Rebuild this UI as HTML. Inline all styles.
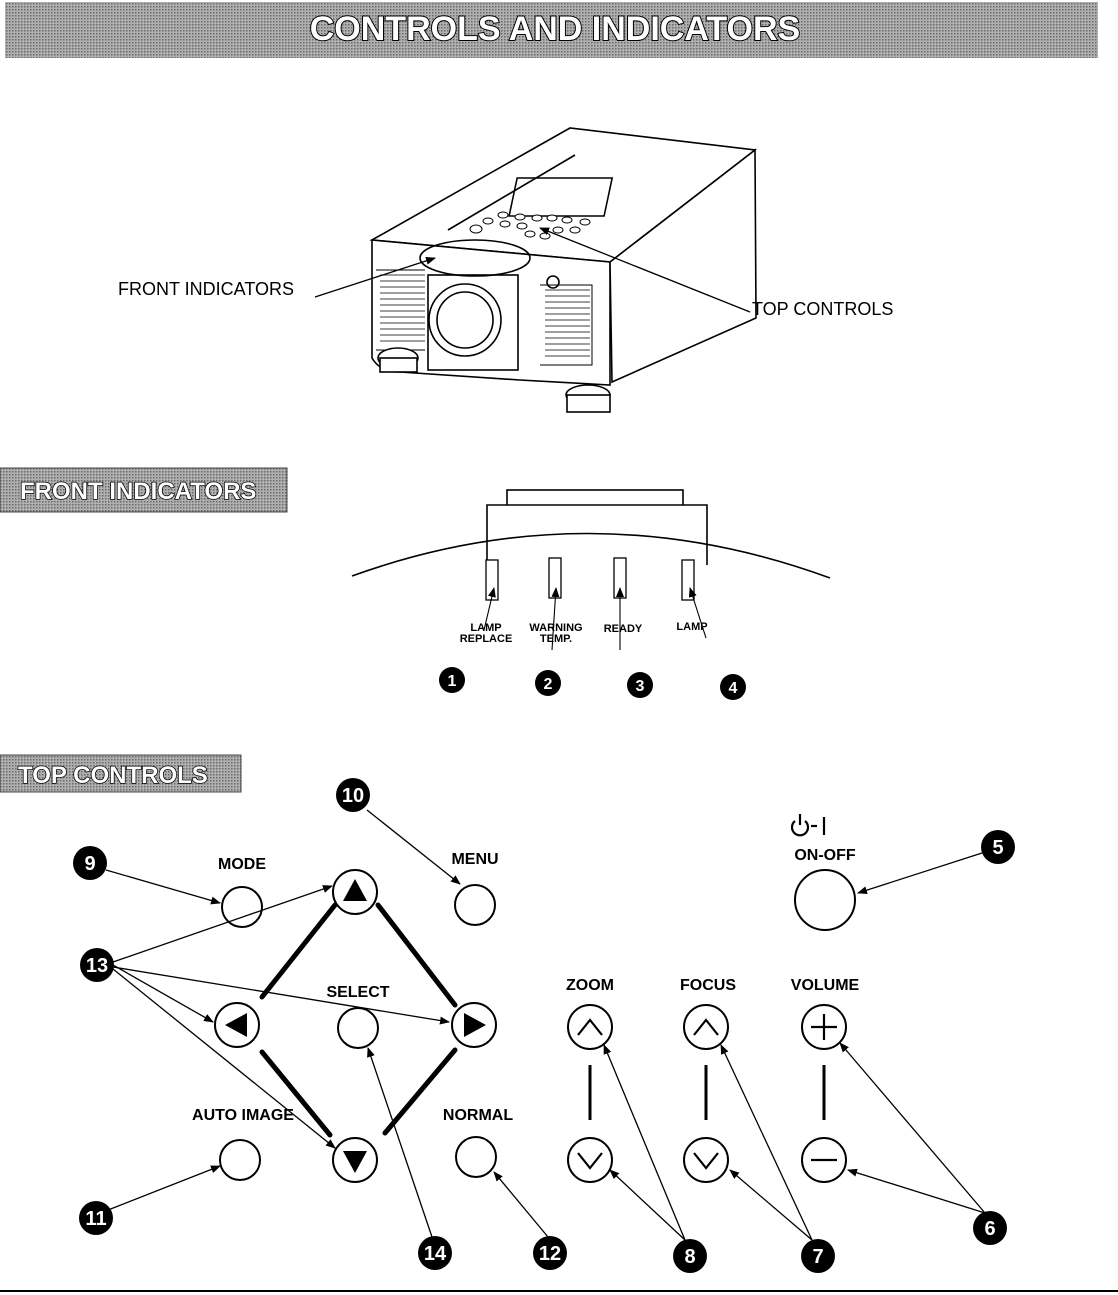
<!DOCTYPE html>
<html><head><style>
body{margin:0;background:#fff;}
svg{display:block;}
text{font-family:"Liberation Sans",Arial,sans-serif;}
</style></head><body>
<svg width="1118" height="1295" viewBox="0 0 1118 1295" xmlns="http://www.w3.org/2000/svg">
<defs>
<pattern id="ht" width="3" height="3" patternUnits="userSpaceOnUse"><rect width="3" height="3" fill="#b0b0b0"/><rect width="1.5" height="1.5" fill="#6a6a6a"/></pattern>
<marker id="ah" markerWidth="10" markerHeight="8" refX="9" refY="4" orient="auto" markerUnits="userSpaceOnUse"><path d="M0,0 L10,4 L0,8 z" fill="#000"/></marker>
</defs>
<rect x="5" y="2" width="1093" height="56" fill="url(#ht)"/>
<text x="555" y="40" font-size="34" font-weight="bold" text-anchor="middle" fill="#fff" stroke="#000" stroke-width="2" paint-order="stroke">CONTROLS AND  INDICATORS</text>

<g fill="none" stroke="#000" stroke-width="1.6">
<path d="M372,240 L570,128 L755,150 L610,262 Z" fill="#fff"/>
<path d="M372,240 L372,358 Q380,372 400,372 L520,380 L610,385 L610,262 Z" fill="#fff"/>
<path d="M610,262 L755,150 L756,318 L612,382 Z" fill="#fff"/>
<rect x="510" y="178" width="95" height="38" transform="skewX(-12) translate(45,0)"/>
<path d="M448,230 L575,155"/>
<rect x="428" y="275" width="90" height="95" fill="#fff"/>
<circle cx="465" cy="320" r="36" fill="#fff"/><circle cx="465" cy="320" r="28"/>
<circle cx="553" cy="282" r="6"/>
<ellipse cx="475" cy="258" rx="55" ry="18"/>
<path d="M540,285 L592,285 L592,365 L540,365" stroke-width="1"/>
<path d="M376,270 L425,270 M376,350 L425,350" stroke-width="1"/>
<ellipse cx="398" cy="358" rx="20" ry="10" fill="#fff"/><rect x="380" y="358" width="37" height="14" fill="#fff"/>
<ellipse cx="588" cy="395" rx="22" ry="10" fill="#fff"/><rect x="567" y="395" width="43" height="17" fill="#fff"/>
</g>
<g stroke="#000" stroke-width="0.8">
<path d="M380,275 H425 M380,281 H425 M380,287 H425 M380,293 H425 M380,299 H425 M380,305 H425 M380,311 H425 M380,317 H425 M380,323 H425 M380,329 H425 M380,335 H425 M380,341 H425"/>
<path d="M545,290 H590 M545,296 H590 M545,302 H590 M545,308 H590 M545,314 H590 M545,320 H590 M545,326 H590 M545,332 H590 M545,338 H590 M545,344 H590 M545,350 H590 M545,356 H590"/>
</g>
<g fill="#fff" stroke="#000" stroke-width="1">
<ellipse cx="476" cy="229" rx="6" ry="4"/><ellipse cx="488" cy="221" rx="5" ry="3"/><ellipse cx="503" cy="215" rx="5" ry="3"/><ellipse cx="520" cy="217" rx="5" ry="3"/><ellipse cx="537" cy="218" rx="5" ry="3"/><ellipse cx="552" cy="218" rx="5" ry="3"/><ellipse cx="567" cy="220" rx="5" ry="3"/><ellipse cx="585" cy="222" rx="5" ry="3"/><ellipse cx="505" cy="224" rx="5" ry="3"/><ellipse cx="522" cy="226" rx="5" ry="3"/><ellipse cx="558" cy="230" rx="5" ry="3"/><ellipse cx="575" cy="230" rx="5" ry="3"/><ellipse cx="530" cy="234" rx="5" ry="3"/><ellipse cx="545" cy="236" rx="5" ry="3"/>
</g>
<text x="118" y="295" font-size="18">FRONT INDICATORS</text>
<line x1="315" y1="297" x2="435" y2="258" stroke="#000" stroke-width="1.3" marker-end="url(#ah)"/>
<text x="752" y="315" font-size="18">TOP CONTROLS</text>
<line x1="750" y1="312" x2="540" y2="228" stroke="#000" stroke-width="1.3" marker-end="url(#ah)"/>

<rect x="0" y="468" width="287" height="44" fill="url(#ht)" stroke="#444"/>
<text x="20" y="499" font-size="24" font-weight="bold" fill="#fff" stroke="#000" stroke-width="1.5" paint-order="stroke">FRONT INDICATORS</text>
<g fill="#fff" stroke="#000" stroke-width="1.6">
<rect x="507" y="490" width="176" height="18"/>
<path d="M487,565 L487,505 L707,505 L707,565"/>
<path d="M352,576 Q590,490 830,578" fill="none"/>
</g>
<g fill="#fff" stroke="#000" stroke-width="1.3">
<rect x="486" y="560" width="12" height="40"/><rect x="549" y="558" width="12" height="40"/><rect x="614" y="558" width="12" height="40"/><rect x="682" y="560" width="12" height="40"/>
</g>
<g font-size="11" font-weight="bold" text-anchor="middle">
<text x="486" y="631">LAMP</text><text x="486" y="642">REPLACE</text>
<text x="556" y="631">WARNING</text><text x="556" y="642">TEMP.</text>
<text x="623" y="632">READY</text><text x="692" y="630">LAMP</text>
</g>
<g stroke="#000" stroke-width="1.1" marker-end="url(#ah)">
<line x1="484" y1="630" x2="494" y2="588"/><line x1="552" y1="650" x2="556" y2="588"/><line x1="620" y1="650" x2="620" y2="588"/><line x1="706" y1="638" x2="690" y2="588"/>
</g>

<rect x="0" y="755" width="241" height="37" fill="url(#ht)" stroke="#444"/>
<text x="18" y="783" font-size="24" font-weight="bold" fill="#fff" stroke="#000" stroke-width="1.5" paint-order="stroke">TOP CONTROLS</text>

<g stroke="#000" stroke-width="5" stroke-linecap="round">
<line x1="378" y1="905" x2="455" y2="1005"/><line x1="335" y1="905" x2="262" y2="997"/>
<line x1="262" y1="1052" x2="330" y2="1135"/><line x1="455" y1="1050" x2="385" y2="1133"/>
</g>
<g stroke="#000" stroke-width="3"><line x1="590" y1="1065" x2="590" y2="1120"/><line x1="706" y1="1065" x2="706" y2="1120"/><line x1="824" y1="1065" x2="824" y2="1120"/></g>
<g fill="#fff" stroke="#000" stroke-width="2">
<circle cx="242" cy="907" r="20"/><circle cx="475" cy="905" r="20"/><circle cx="358" cy="1028" r="20"/>
<circle cx="240" cy="1160" r="20"/><circle cx="476" cy="1157" r="20"/><circle cx="825" cy="900" r="30"/>
<circle cx="355" cy="892" r="22"/><circle cx="237" cy="1025" r="22"/><circle cx="474" cy="1025" r="22"/><circle cx="355" cy="1160" r="22"/>
<circle cx="590" cy="1027" r="22"/><circle cx="590" cy="1160" r="22"/><circle cx="706" cy="1027" r="22"/><circle cx="706" cy="1160" r="22"/><circle cx="824" cy="1027" r="22"/><circle cx="824" cy="1160" r="22"/>
</g>
<g fill="#000"><path d="M355,879 L367,901 L343,901 Z"/><path d="M225,1025 L247,1013 L247,1037 Z"/><path d="M486,1025 L464,1013 L464,1037 Z"/><path d="M355,1173 L367,1151 L343,1151 Z"/></g>
<g fill="none" stroke="#000" stroke-width="2.2">
<path d="M578,1035 L590,1020 L602,1035"/><path d="M578,1153 L590,1168 L602,1153"/><path d="M694,1035 L706,1020 L718,1035"/><path d="M694,1153 L706,1168 L718,1153"/>
<path d="M811,1027 H837 M824,1014 V1040"/><path d="M811,1160 H837"/>
<path d="M795,821 A8,8 0 1 0 805,821" /><line x1="800" y1="814" x2="800" y2="825"/><line x1="811" y1="826" x2="817" y2="826"/><line x1="824" y1="817" x2="824" y2="835"/>
</g>
<g font-size="16" font-weight="bold" text-anchor="middle">
<text x="242" y="869">MODE</text><text x="475" y="864">MENU</text><text x="825" y="860">ON-OFF</text>
<text x="358" y="997">SELECT</text><text x="590" y="990">ZOOM</text><text x="708" y="990">FOCUS</text><text x="825" y="990">VOLUME</text>
<text x="243" y="1120">AUTO IMAGE</text><text x="478" y="1120">NORMAL</text>
</g>
<g stroke="#000" stroke-width="1.3" marker-end="url(#ah)">
<line x1="367" y1="810" x2="460" y2="884"/>
<line x1="106" y1="870" x2="220" y2="903"/>
<line x1="982" y1="853" x2="858" y2="893"/>
<line x1="113" y1="962" x2="332" y2="886"/><line x1="113" y1="965" x2="213" y2="1022"/><line x1="113" y1="967" x2="449" y2="1022"/><line x1="113" y1="969" x2="335" y2="1148"/>
<line x1="108" y1="1210" x2="220" y2="1166"/>
<line x1="432" y1="1237" x2="368" y2="1048"/>
<line x1="548" y1="1237" x2="494" y2="1172"/>
<line x1="685" y1="1240" x2="604" y2="1045"/><line x1="685" y1="1240" x2="610" y2="1170"/>
<line x1="812" y1="1240" x2="721" y2="1045"/><line x1="812" y1="1240" x2="730" y2="1170"/>
<line x1="985" y1="1213" x2="840" y2="1043"/><line x1="985" y1="1213" x2="848" y2="1170"/>
</g>
<g fill="#000">
<circle cx="452" cy="680" r="13"/><circle cx="548" cy="683" r="13"/><circle cx="640" cy="685" r="13"/><circle cx="733" cy="687" r="13"/>
<circle cx="353" cy="795" r="17"/><circle cx="90" cy="863" r="17"/><circle cx="998" cy="847" r="17"/><circle cx="97" cy="965" r="17"/>
<circle cx="96" cy="1218" r="17"/><circle cx="435" cy="1253" r="17"/><circle cx="550" cy="1253" r="17"/><circle cx="690" cy="1256" r="17"/><circle cx="818" cy="1256" r="17"/><circle cx="990" cy="1228" r="17"/>
</g>
<g fill="#fff" font-weight="bold" text-anchor="middle">
<g font-size="16"><text x="452" y="686">1</text><text x="548" y="689">2</text><text x="640" y="691">3</text><text x="733" y="693">4</text></g>
<g font-size="20"><text x="353" y="802">10</text><text x="90" y="870">9</text><text x="998" y="854">5</text><text x="97" y="972">13</text>
<text x="96" y="1225">11</text><text x="435" y="1260">14</text><text x="550" y="1260">12</text><text x="690" y="1263">8</text><text x="818" y="1263">7</text><text x="990" y="1235">6</text></g>
</g>
<line x1="0" y1="1291" x2="1118" y2="1291" stroke="#000" stroke-width="2"/>
</svg>
</body></html>
